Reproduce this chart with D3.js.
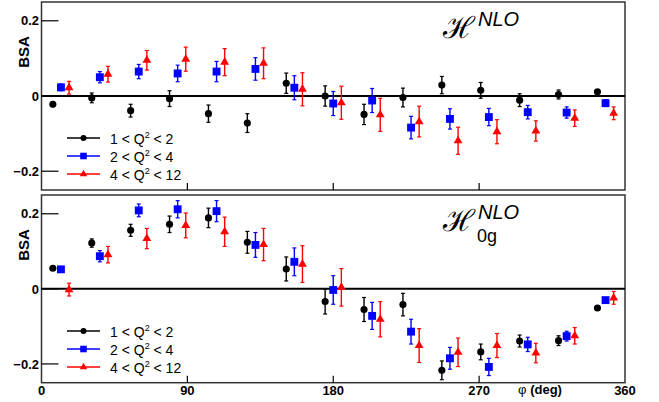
<!DOCTYPE html>
<html>
<head>
<meta charset="utf-8">
<script src="https://cdn.jsdelivr.net/npm/d3@7"></script>
<style>
  body { margin: 0; background: #fff; }
  svg { display: block; font-family: 'Liberation Sans', Arial, sans-serif; }
</style>
</head>
<body>
<svg width="659" height="402"></svg>
<script>
// phi bin centres (deg) and axis ticks
const phiBins = [12, 36, 60, 84, 108, 132, 156, 180, 204, 228, 252, 276, 300, 324, 348];
const xTicks = [0, 90, 180, 270, 360];
const yTicks = [-0.2, 0, 0.2];
const qLow = [1, 2, 4];
const qHigh = [2, 4, 12];

// BSA with H^NLO
const nloQ1 = [-0.022, -0.005, -0.039, -0.007, -0.047, -0.072, 0.034, 0.000, -0.049, -0.004, 0.029, 0.015, -0.011, 0.004, 0.011];
const nloQ1Err = [0.006, 0.013, 0.017, 0.021, 0.023, 0.025, 0.027, 0.027, 0.027, 0.025, 0.023, 0.021, 0.017, 0.012, 0.005];
const nloQ2 = [0.023, 0.050, 0.065, 0.060, 0.065, 0.072, 0.022, -0.020, -0.012, -0.084, -0.061, -0.056, -0.043, -0.044, -0.019];
const nloQ2Err = [0.009, 0.015, 0.019, 0.022, 0.027, 0.030, 0.032, 0.032, 0.032, 0.030, 0.027, 0.023, 0.018, 0.015, 0.009];
const nloQ3 = [0.022, 0.058, 0.095, 0.098, 0.090, 0.087, 0.018, -0.018, -0.050, -0.068, -0.119, -0.095, -0.093, -0.059, -0.046];
const nloQ3Err = [0.017, 0.021, 0.026, 0.032, 0.036, 0.041, 0.044, 0.044, 0.044, 0.041, 0.036, 0.032, 0.027, 0.022, 0.017];

// BSA with H^NLO_0g
const gQ1 = [0.055, 0.122, 0.156, 0.172, 0.189, 0.124, 0.053, -0.034, -0.055, -0.042, -0.217, -0.168, -0.139, -0.138, -0.051];
const gQ1Err = [0.005, 0.011, 0.016, 0.022, 0.026, 0.029, 0.032, 0.033, 0.032, 0.030, 0.025, 0.021, 0.016, 0.013, 0.004];
const gQ2 = [0.052, 0.087, 0.209, 0.212, 0.207, 0.117, 0.072, -0.003, -0.072, -0.114, -0.185, -0.208, -0.148, -0.126, -0.030];
const gQ2Err = [0.006, 0.015, 0.017, 0.023, 0.028, 0.033, 0.037, 0.038, 0.036, 0.033, 0.029, 0.023, 0.019, 0.013, 0.006];
const gQ3 = [-0.002, 0.091, 0.134, 0.169, 0.152, 0.118, 0.066, 0.004, -0.081, -0.151, -0.169, -0.151, -0.171, -0.125, -0.024];
const gQ3Err = [0.017, 0.022, 0.027, 0.033, 0.039, 0.043, 0.049, 0.050, 0.047, 0.045, 0.038, 0.032, 0.026, 0.022, 0.017];

const LEFT = 41.5, RIGHT = 625;
const panels = [
  {top: 2, bottom: 190, sub: null, vals: [nloQ1, nloQ2, nloQ3], errs: [nloQ1Err, nloQ2Err, nloQ3Err]},
  {top: 195, bottom: 382.7, sub: '0g', vals: [gQ1, gQ2, gQ3], errs: [gQ1Err, gQ2Err, gQ3Err]}
];
const styles = [
  {color: '#000', shape: d3.symbolCircle, size: 40, dodge: -5},
  {color: '#0000ff', shape: d3.symbolSquare, size: 62, dodge: 0},
  {color: '#ff0000', shape: d3.symbolTriangle, size: 34, dodge: 5}
];

const svg = d3.select('svg');
const x = d3.scaleLinear().domain([0, 360]).range([LEFT, RIGHT]);

panels.forEach(p => {
  const y = d3.scaleLinear().domain([-0.25, 0.25]).range([p.bottom, p.top]);
  const g = svg.append('g');

  // frame
  g.append('rect')
    .attr('x', LEFT).attr('y', p.top)
    .attr('width', RIGHT - LEFT).attr('height', p.bottom - p.top)
    .attr('fill', 'none').attr('stroke', '#333').attr('stroke-width', 1.5);

  // zero line
  g.append('line')
    .attr('x1', LEFT).attr('x2', RIGHT)
    .attr('y1', y(0)).attr('y2', y(0))
    .attr('stroke', '#000').attr('stroke-width', 2);

  // y ticks + labels
  yTicks.forEach(t => {
    g.append('line')
      .attr('x1', LEFT).attr('x2', LEFT + 17)
      .attr('y1', y(t)).attr('y2', y(t))
      .attr('stroke', '#000').attr('stroke-width', 1.2);
    g.append('text')
      .attr('x', 39).attr('y', y(t)).attr('dy', '0.36em')
      .attr('text-anchor', 'end')
      .attr('font-size', 13).attr('font-weight', 'bold')
      .text(t === 0 ? '0' : (t < 0 ? '\u2212' : '') + Math.abs(t).toFixed(1));
  });

  // x ticks
  xTicks.slice(1, -1).forEach(t => {
    g.append('line')
      .attr('x1', x(t)).attr('x2', x(t))
      .attr('y1', p.bottom).attr('y2', p.bottom - 7)
      .attr('stroke', '#000').attr('stroke-width', 1.2);
  });

  // y title
  g.append('text')
    .attr('transform', 'translate(29,' + (p.top + 50) + ') rotate(-90)')
    .attr('text-anchor', 'middle')
    .attr('font-size', 15).attr('font-weight', 'bold')
    .text('BSA');

  // annotation
  g.append('text')
    .attr('x', 475).attr('y', p.top + 36)
    .attr('text-anchor', 'end')
    .attr('font-family', 'DejaVu Serif')
    .attr('font-size', 30)
    .text('\u210B');
  g.append('text')
    .attr('x', 478).attr('y', p.top + 24)
    .attr('font-style', 'italic').attr('font-size', 20)
    .text('NLO');
  if (p.sub) {
    g.append('text')
      .attr('x', 477).attr('y', p.top + 47)
      .attr('font-size', 18)
      .text(p.sub);
  }

  // data
  styles.forEach((s, k) => {
    const pts = phiBins.map((phi, i) => ({phi: phi + s.dodge, v: p.vals[k][i], e: p.errs[k][i]}));
    const sg = g.append('g');
    sg.selectAll('.bar').data(pts).enter().append('line')
      .attr('x1', d => x(d.phi)).attr('x2', d => x(d.phi))
      .attr('y1', d => y(d.v - d.e)).attr('y2', d => y(d.v + d.e))
      .attr('stroke', s.color).attr('stroke-width', 1.4);
    ['lo', 'hi'].forEach(end => {
      sg.selectAll('.cap' + end).data(pts).enter().append('line')
        .attr('x1', d => x(d.phi) - 2).attr('x2', d => x(d.phi) + 2)
        .attr('y1', d => y(end === 'lo' ? d.v - d.e : d.v + d.e))
        .attr('y2', d => y(end === 'lo' ? d.v - d.e : d.v + d.e))
        .attr('stroke', s.color).attr('stroke-width', 1.2);
    });
    sg.selectAll('path').data(pts).enter().append('path')
      .attr('d', d3.symbol().type(s.shape).size(s.size))
      .attr('transform', d => 'translate(' + x(d.phi) + ',' + y(d.v) + ')')
      .attr('fill', s.color);

    // legend entry
    const ly = p.top + 136 + k * 18;
    g.append('line')
      .attr('x1', 67).attr('x2', 100).attr('y1', ly).attr('y2', ly)
      .attr('stroke', s.color).attr('stroke-width', 1.5);
    g.append('path')
      .attr('d', d3.symbol().type(s.shape).size(s.size * 0.7))
      .attr('transform', 'translate(83.5,' + ly + ')')
      .attr('fill', s.color);
    const lt = g.append('text')
      .attr('x', 110).attr('y', ly + 5.5)
      .attr('font-size', 14);
    lt.append('tspan').text(qLow[k] + ' < Q');
    lt.append('tspan').attr('font-size', 9).attr('dy', -6).text('2');
    lt.append('tspan').attr('dy', 6).text(' < ' + qHigh[k]);
  });
});

// x tick labels (bottom panel)
xTicks.forEach(t => {
  svg.append('text')
    .attr('x', x(t)).attr('y', 395)
    .attr('text-anchor', 'middle')
    .attr('font-size', 13).attr('font-weight', 'bold')
    .text(t);
});
const xt = svg.append('text')
  .attr('x', 540).attr('y', 394)
  .attr('text-anchor', 'middle')
  .attr('font-size', 13).attr('fill', '#000');
xt.append('tspan').text('\u03C6');
xt.append('tspan').attr('font-weight', 'bold').text(' (deg)');
</script>
</body>
</html>
